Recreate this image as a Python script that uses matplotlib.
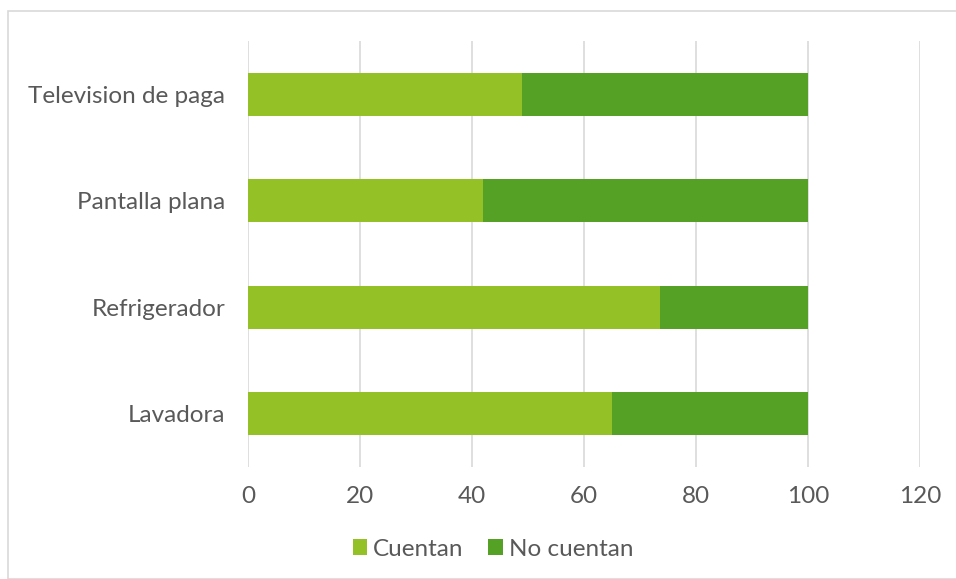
import matplotlib.pyplot as plt
from matplotlib.patches import Rectangle

categories = ["Lavadora", "Refrigerador", "Pantalla plana", "Television de paga"]
cuentan = [65, 73.5, 42, 49]
no_cuentan = [35, 26.5, 58, 51]
series_names = ["Cuentan", "No cuentan"]
ticks = [0, 20, 40, 60, 80, 100, 120]

plt.rcParams['font.family'] = ['Lato', 'DejaVu Sans']
text_color = '#595959'

fig = plt.figure(figsize=(9.56, 5.79), dpi=100)
ax = fig.add_axes([248 / 956, 1 - 467 / 579, 672 / 956, 426 / 579])

# outer chart frame
fig.patches.append(Rectangle((8 / 956, 0), 1, 1 - 11 / 579, transform=fig.transFigure,
                             fill=False, edgecolor='#d9d9d9', linewidth=1.2))

y = range(len(categories))
ax.barh(y, cuentan, height=0.4, color='#93c126', label=series_names[0], zorder=3)
ax.barh(y, no_cuentan, left=cuentan, height=0.4, color='#55a126', label=series_names[1], zorder=3)

ax.set_xlim(0, 120)
ax.set_ylim(-0.5, len(categories) - 0.5)
ax.set_xticks(ticks)
ax.set_yticks(list(y))
ax.set_yticklabels(categories)
ax.grid(axis='x', color='#d9d9d9', linewidth=1.2, zorder=0)
for s in ax.spines.values():
    s.set_visible(False)
ax.tick_params(axis='both', length=0, labelsize=17.5, colors=text_color, labelcolor=text_color)
ax.tick_params(axis='x', pad=14)
ax.tick_params(axis='y', pad=16.5)

fig.legend(loc='center', bbox_to_anchor=(493 / 956, 1 - 549 / 579), ncol=2, frameon=False,
           fontsize=17.5, labelcolor=text_color, handlelength=0.6, handleheight=0.6,
           handletextpad=0.25, columnspacing=1.0)

fig.savefig('out.png', dpi=100)
